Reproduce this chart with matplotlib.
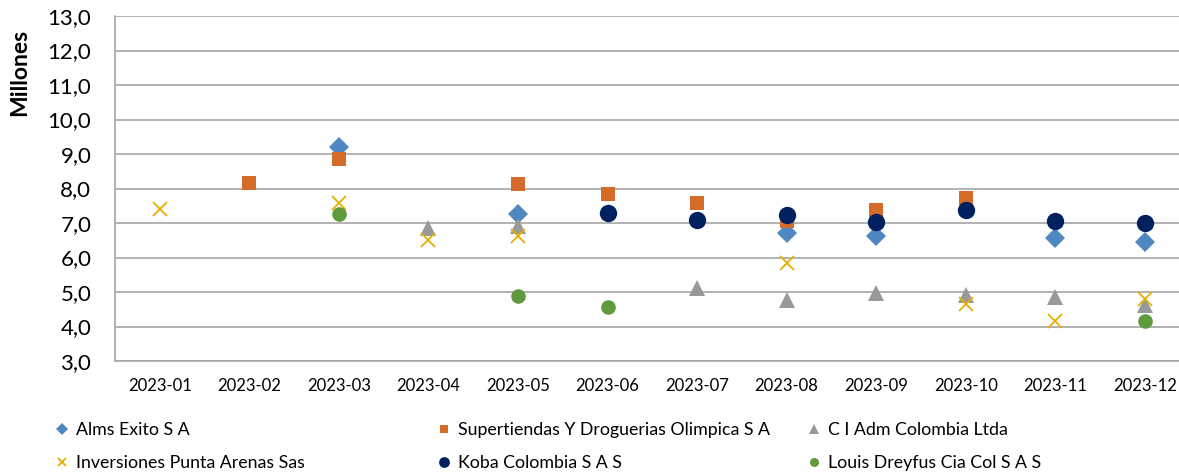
import matplotlib
matplotlib.use("Agg")
import matplotlib.pyplot as plt
import numpy as np
from matplotlib.ticker import FuncFormatter

plt.rcParams["font.family"] = ["Lato", "DejaVu Sans"]

months = ["2023-01", "2023-02", "2023-03", "2023-04", "2023-05", "2023-06",
          "2023-07", "2023-08", "2023-09", "2023-10", "2023-11", "2023-12"]

nan = np.nan
alms_exito = [nan, nan, 9.21, nan, 7.25, nan, nan, 6.70, 6.62, nan, 6.57, 6.46]
supertiendas = [nan, 8.15, 8.86, nan, 8.13, 7.84, 7.57, 7.07, 7.38, 7.72, nan, nan]
ci_adm = [nan, nan, nan, 6.85, 6.91, nan, 5.13, 4.77, 4.96, 4.91, 4.85, 4.62]
punta_arenas = [7.40, nan, 7.59, 6.51, 6.62, nan, nan, 5.85, nan, 4.65, 4.16, 4.79]
koba = [nan, nan, nan, nan, nan, 7.30, 7.08, 7.23, 7.02, 7.38, 7.07, 6.99]
louis_dreyfus = [nan, nan, 7.25, nan, 4.88, 4.56, nan, nan, nan, nan, nan, 4.17]

series = [
    ("Alms Exito S A", alms_exito, "D", "#4f88c0", 10),
    ("Supertiendas Y Droguerias Olimpica S A", supertiendas, "s", "#d46b28", 10),
    ("C I Adm Colombia Ltda", ci_adm, "^", "#999999", 11.5),
    ("Inversiones Punta Arenas Sas", punta_arenas, "x", "#e6b000", 10),
    ("Koba Colombia S A S", koba, "o", "#002060", 12.5),
    ("Louis Dreyfus Cia Col S A S", louis_dreyfus, "o", "#5f9a3c", 10.5),
]

fig = plt.figure(figsize=(11.79, 4.74), dpi=100)
ax = fig.add_axes([0.0975, 0.2384, 0.9115, 0.7278])

x = np.arange(len(months))
handles = []
for name, vals, marker, color, ms in series:
    mew = 1.3 if marker == "x" else 0
    h, = ax.plot(x, vals, linestyle="none", marker=marker, color=color,
                 markersize=ms, markeredgewidth=mew, label=name)
    handles.append(h)

ax.set_xlim(-0.5, len(months) - 0.5)
ax.set_ylim(3, 13)
ax.set_yticks(np.arange(3, 13.5, 1))
ax.yaxis.set_major_formatter(FuncFormatter(lambda v, p: f"{v:.1f}".replace(".", ",")))
ax.set_xticks(x)
ax.set_xticklabels(months)
ax.tick_params(axis="y", length=0, pad=17, labelsize=16)
ax.tick_params(axis="x", length=0, pad=12, labelsize=12)
ax.grid(axis="y", color="#a6a6a6", linewidth=1.2)
ax.set_axisbelow(True)
for side in ["top", "right"]:
    ax.spines[side].set_visible(False)
for side in ["left", "bottom"]:
    ax.spines[side].set_color("#a6a6a6")
    ax.spines[side].set_linewidth(1.2)

fig.text(20 / 1179, 1 - 72 / 474, "Millones", rotation=90, fontsize=16.5,
         fontweight="bold", ha="center", va="center")

# legend: three columns of two entries
col_x = [57 / 1179, 439 / 1179, 809 / 1179]
for i, cx in enumerate(col_x):
    fig.legend([handles[i], handles[i + 3]],
               [handles[i].get_label(), handles[i + 3].get_label()],
               loc="upper left", bbox_to_anchor=(cx, 1 - 422 / 474),
               frameon=False, fontsize=12.8, markerscale=0.62,
               handlelength=0.6, handletextpad=0.45, labelspacing=0.95,
               borderaxespad=0, borderpad=0)

fig.savefig("out.png", dpi=100)
